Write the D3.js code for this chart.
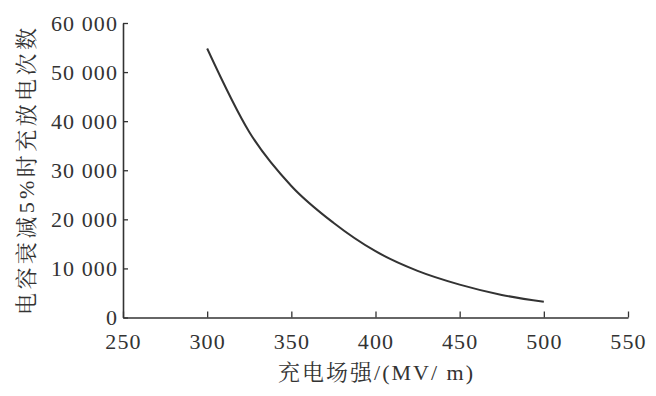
<!DOCTYPE html>
<html><head><meta charset="utf-8">
<script src="https://cdn.jsdelivr.net/npm/d3@7"></script>
<style>
html,body{margin:0;padding:0;background:#fff;}
svg{display:block;}
</style></head>
<body>
<svg id="chart" width="656" height="396"></svg>
<script>
const fieldStrength = [300, 325, 350, 375, 400, 425, 450, 475, 500];
const cycles = [54800, 37800, 26800, 19300, 13500, 9500, 6700, 4600, 3200];
const xTicks = [250, 300, 350, 400, 450, 500, 550];
const yTicks = [0, 10000, 20000, 30000, 40000, 50000, 60000];
const xTitle = "充电场强/(MV/ m)";
const yTitle = "电容衰减5%时充放电次数";

(function () {
const svg = d3.select("#chart");
const mLeft = 123, mRight = 628, mTop = 23, mBottom = 317.5;
const x = d3.scaleLinear().domain([250, 550]).range([mLeft, mRight]);
const y = d3.scaleLinear().domain([0, 60000]).range([mBottom, mTop]);
const ink = "#333";
const fontNum = "Liberation Serif";
const fontCJK = "Liberation Serif, Noto Serif CJK SC";

const fmt = d => d === 0 ? "0" : d3.format(",")(d).replace(",", " ");

const xAxis = svg.append("g").attr("transform", `translate(0,${mBottom})`)
  .call(d3.axisBottom(x).tickValues(xTicks).tickSizeInner(-6).tickSizeOuter(0).tickPadding(16));
const yAxis = svg.append("g").attr("transform", `translate(${mLeft},0)`)
  .call(d3.axisLeft(y).tickValues(yTicks).tickSizeInner(-5).tickSizeOuter(0).tickPadding(5).tickFormat(fmt));

[xAxis, yAxis].forEach(g => {
  g.attr("font-family", fontNum).attr("font-size", 22);
  g.select(".domain").attr("stroke", ink).attr("stroke-width", 1.6);
  g.selectAll(".tick line").attr("stroke", ink).attr("stroke-width", 1.3);
  g.selectAll(".tick text").attr("fill", ink).attr("letter-spacing", 1.1)
    .style("white-space", "pre");
});
yAxis.selectAll(".tick text").attr("dy", "0.34em");

const line = d3.line().x(d => x(d[0])).y(d => y(d[1])).curve(d3.curveMonotoneX);
svg.append("path")
  .datum(fieldStrength.map((f, i) => [f, cycles[i]]))
  .attr("d", line)
  .attr("fill", "none")
  .attr("stroke", ink)
  .attr("stroke-width", 2);

svg.append("text")
  .attr("x", x(400)).attr("y", 380)
  .attr("text-anchor", "middle")
  .attr("fill", ink)
  .attr("font-family", fontCJK).attr("font-size", 22)
  .attr("textLength", 195).attr("lengthAdjust", "spacing")
  .style("white-space", "pre")
  .text(xTitle);

svg.append("text")
  .attr("transform", `translate(34,171.5) rotate(-90)`)
  .attr("text-anchor", "middle")
  .attr("fill", ink)
  .attr("font-family", fontCJK).attr("font-size", 22)
  .attr("textLength", 287).attr("lengthAdjust", "spacing")
  .text(yTitle);
})();
</script>
</body></html>
